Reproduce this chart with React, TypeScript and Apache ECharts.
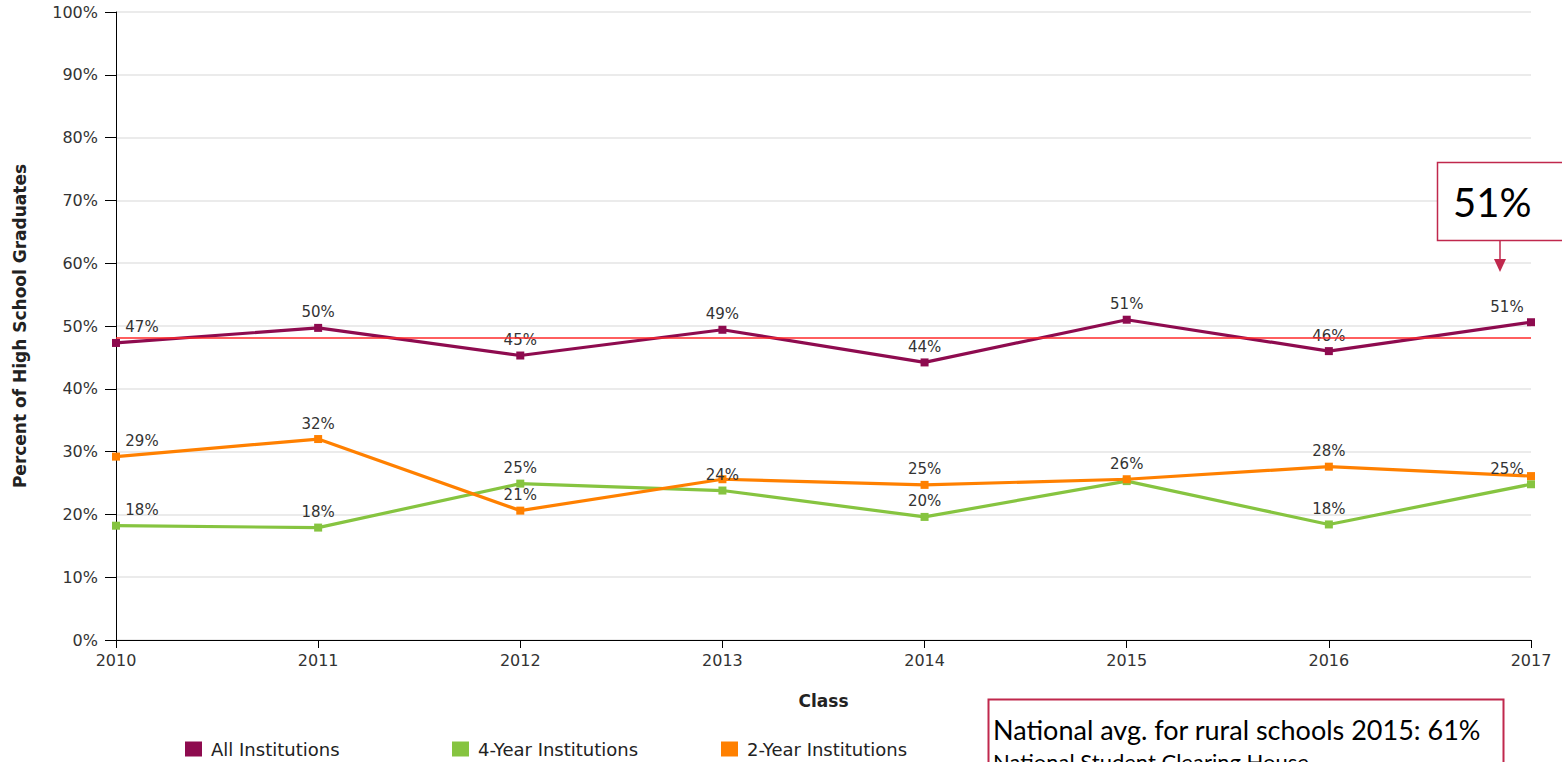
import React, { useEffect, useRef } from "react";
import * as echarts from "echarts";

const years = ["2010", "2011", "2012", "2013", "2014", "2015", "2016", "2017"];
const allInstitutions = [47.3, 49.7, 45.3, 49.4, 44.2, 51.0, 46.0, 50.6];
const fourYear = [18.2, 17.9, 24.9, 23.8, 19.6, 25.3, 18.4, 24.8];
const twoYear = [29.2, 32.0, 20.6, 25.6, 24.7, 25.6, 27.6, 26.1];
const fourYearHiddenLabels = [5];
const twoYearHiddenLabels = [3, 7];
const referenceLine = 48.2;
const yTicks = [0, 10, 20, 30, 40, 50, 60, 70, 80, 90, 100];

const COLOR_ALL = "#8e0b4f";
const COLOR_FOUR = "#86c440";
const COLOR_TWO = "#ff8000";
const BOX = "#c0284d";
const FONT = "DejaVu Sans";

function withLabels(values: number[], hidden: number[]) {
  const last = values.length - 1;
  return values.map((v, i) => {
    if (hidden.includes(i)) return { value: v, label: { show: false } };
    if (i === 0) return { value: v, label: { offset: [26, 0] } };
    if (i === last) return { value: v, label: { offset: [-24, 0] } };
    return { value: v };
  });
}

export default function App() {
  const ref = useRef<HTMLDivElement>(null);
  useEffect(() => {
    if (!ref.current) return;
    const chart = echarts.init(ref.current, null, { renderer: "svg" });
    const labelStyle = {
      show: true,
      position: "top" as const,
      distance: 4,
      formatter: (p: any) => Math.round(p.value) + "%",
      color: "#333",
      fontFamily: FONT,
      fontSize: 15,
    };
    const mkSeries = (name: string, data: any[], color: string, extra: any = {}) => ({
      name,
      type: "line",
      data,
      symbol: "rect",
      symbolSize: 8,
      lineStyle: { color, width: 3.2 },
      itemStyle: { color },
      label: labelStyle,
      z: 3,
      ...extra,
    });
    const legendBase = {
      top: 735,
      icon: "rect",
      itemWidth: 17,
      itemHeight: 15,
      itemGap: 8,
      textStyle: { fontFamily: FONT, fontSize: 18, color: "#222", padding: [0, 0, 0, 4] },
    };
    chart.setOption({
      animation: false,
      backgroundColor: "#fff",
      grid: { left: 116, right: 31, top: 12, bottom: 122, containLabel: false },
      legend: [
        { ...legendBase, left: 180, data: ["All Institutions"] },
        { ...legendBase, left: 447, data: ["4-Year Institutions"] },
        { ...legendBase, left: 716, data: ["2-Year Institutions"] },
      ],
      xAxis: {
        type: "category",
        data: years,
        boundaryGap: false,
        name: "Class",
        nameLocation: "middle",
        nameGap: 52,
        nameTextStyle: { fontFamily: FONT, fontSize: 17, fontWeight: "bold", color: "#222" },
        axisLine: { lineStyle: { color: "#000", width: 1 } },
        axisTick: { show: true, length: 8, lineStyle: { color: "#000" } },
        axisLabel: { fontFamily: FONT, fontSize: 16, color: "#333", margin: 12 },
        splitLine: { show: false },
      },
      yAxis: {
        type: "value",
        min: 0,
        max: 100,
        interval: 10,
        name: "Percent of High School Graduates",
        nameLocation: "middle",
        nameGap: 88,
        nameTextStyle: { fontFamily: FONT, fontSize: 17, fontWeight: "bold", color: "#222" },
        axisLine: { show: true, lineStyle: { color: "#000", width: 1 } },
        axisTick: { show: true, length: 11, lineStyle: { color: "#000" } },
        axisLabel: {
          fontFamily: FONT,
          fontSize: 16,
          color: "#333",
          margin: 18,
          formatter: (v: number) => (yTicks.includes(v) ? v + "%" : ""),
        },
        splitLine: { lineStyle: { color: "#e4e4e4", width: 1.5 } },
      },
      series: [
        mkSeries("All Institutions", withLabels(allInstitutions, []), COLOR_ALL, {
          markLine: {
            silent: true,
            symbol: "none",
            label: { show: false },
            lineStyle: { color: "#ff2a2a", width: 1.5, type: "solid", opacity: 1 },
            emphasis: { disabled: true },
            data: [{ yAxis: referenceLine }],
          },
          z: 4,
        }),
        mkSeries("4-Year Institutions", withLabels(fourYear, fourYearHiddenLabels), COLOR_FOUR),
        mkSeries("2-Year Institutions", withLabels(twoYear, twoYearHiddenLabels), COLOR_TWO),
      ],
      graphic: [
        {
          type: "rect",
          shape: { x: 1437.5, y: 162.5, width: 140, height: 78 },
          style: { fill: "#fff", stroke: BOX, lineWidth: 1.5 },
          z: 10,
        },
        {
          type: "text",
          x: 1453,
          y: 182,
          style: { text: "51%", font: "40px Lato", fill: "#000" },
          z: 11,
        },
        {
          type: "line",
          shape: { x1: 1500, y1: 241, x2: 1500, y2: 262 },
          style: { stroke: BOX, lineWidth: 1.5 },
          z: 10,
        },
        {
          type: "polygon",
          shape: { points: [[1494, 259], [1506, 259], [1500, 272]] },
          style: { fill: BOX },
          z: 10,
        },
        {
          type: "rect",
          shape: { x: 988.5, y: 699.5, width: 515, height: 80 },
          style: { fill: "#fff", stroke: BOX, lineWidth: 2 },
          z: 10,
        },
        {
          type: "text",
          x: 993,
          y: 716,
          style: { text: "National avg. for rural schools 2015: 61%", font: "27px Lato", fill: "#000" },
          z: 11,
        },
        {
          type: "text",
          x: 993,
          y: 750,
          style: { text: "National Student Clearing House", font: "22px Lato", fill: "#000" },
          z: 11,
        },
      ],
    });
    return () => chart.dispose();
  }, []);
  return <div ref={ref} style={{ position: "fixed", left: 0, top: 0, width: 1562, height: 762 }} />;
}
